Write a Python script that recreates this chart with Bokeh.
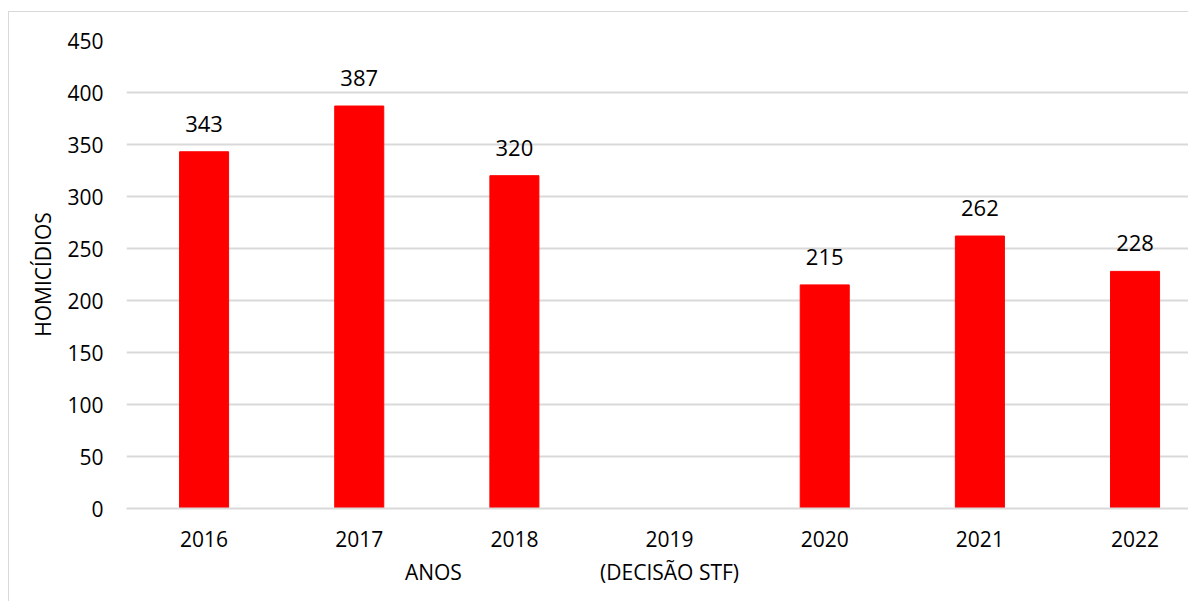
from bokeh.plotting import figure
from bokeh.models import Range1d, FixedTicker, LinearAxis
from bokeh.embed import file_html
from bokeh.resources import INLINE
from bokeh.core.properties import value

# ---- data ----
anos = ["2016", "2017", "2018", "2019\n(DECISÃO STF)", "2020", "2021", "2022"]
homicidios = [343, 387, 320, None, 215, 262, 228]
y_ticks = [0, 50, 100, 150, 200, 250, 300, 350, 400, 450]
x_title = "ANOS"
y_title = "HOMICÍDIOS"

FONT = "Open Sans"
xs = list(range(len(anos)))
bar_x = [i for i, v in zip(xs, homicidios) if v is not None]
bar_top = [v for v in homicidios if v is not None]
lab_txt = [str(v) for v in bar_top]
first_lines = {i: a.split("\n")[0] for i, a in zip(xs, anos)}
second_lines = {i: a.split("\n")[1] for i, a in zip(xs, anos) if "\n" in a}

p = figure(width=1180, height=590, output_backend="svg", toolbar_location=None,
           x_range=Range1d(-0.5, 6.351), y_range=Range1d(0, 450),
           min_border_left=117, min_border_top=28, min_border_bottom=94, min_border_right=0)
p.styles = {"border-left": "1px solid #d9d9d9", "border-top": "1px solid #d9d9d9",
            "margin-top": "11px", "margin-left": "8px"}
p.outline_line_color = None
p.background_fill_color = "white"

p.vbar(x=bar_x, top=bar_top, width=0.316, color="#ff0000")
p.text(x=bar_x, y=bar_top, text=lab_txt, text_align="center", text_baseline="alphabetic",
       y_offset=-28, text_font=value(FONT), text_font_size="22px", text_color="#000000")

# y axis
p.yaxis.ticker = FixedTicker(ticks=y_ticks)
p.yaxis.axis_line_color = None
p.yaxis.major_tick_line_color = None
p.yaxis.minor_tick_line_color = None
p.yaxis.major_label_standoff = 17
p.yaxis.major_label_text_font = FONT
p.yaxis.major_label_text_font_size = "21px"
p.yaxis.major_label_text_color = "#000000"
p.yaxis.axis_label = y_title
p.yaxis.axis_label_text_font = FONT
p.yaxis.axis_label_text_font_size = "21px"
p.yaxis.axis_label_text_font_style = "normal"
p.yaxis.axis_label_text_color = "#000000"
p.yaxis.axis_label_standoff = 7

# x axis: first line of each category label
p.xaxis.ticker = FixedTicker(ticks=xs)
p.xaxis.major_label_overrides = first_lines
p.xaxis.axis_line_color = "#d9d9d9"
p.xaxis.axis_line_width = 2
p.xaxis.major_tick_line_color = None
p.xaxis.minor_tick_line_color = None
p.xaxis.major_label_standoff = 16
p.xaxis.major_label_text_font = FONT
p.xaxis.major_label_text_font_size = "21px"
p.xaxis.major_label_text_color = "#000000"

# second row: the note under 2019 and the axis title (placed left of centre as in the original)
x_title_pos = 1.478
row2_ticks = [x_title_pos] + list(second_lines.keys())
row2_labels = {x_title_pos: x_title}
row2_labels.update(second_lines)
ax2 = LinearAxis(ticker=FixedTicker(ticks=row2_ticks), major_label_overrides=row2_labels)
ax2.axis_line_color = None
ax2.major_tick_line_color = None
ax2.minor_tick_line_color = None
ax2.major_label_standoff = 2
ax2.major_label_text_font = FONT
ax2.major_label_text_font_size = "21px"
ax2.major_label_text_color = "#000000"
p.add_layout(ax2, "below")

p.xgrid.grid_line_color = None
p.ygrid.grid_line_color = "#d9d9d9"
p.ygrid.grid_line_width = 2

open("out.html", "w").write(file_html(p, INLINE))
